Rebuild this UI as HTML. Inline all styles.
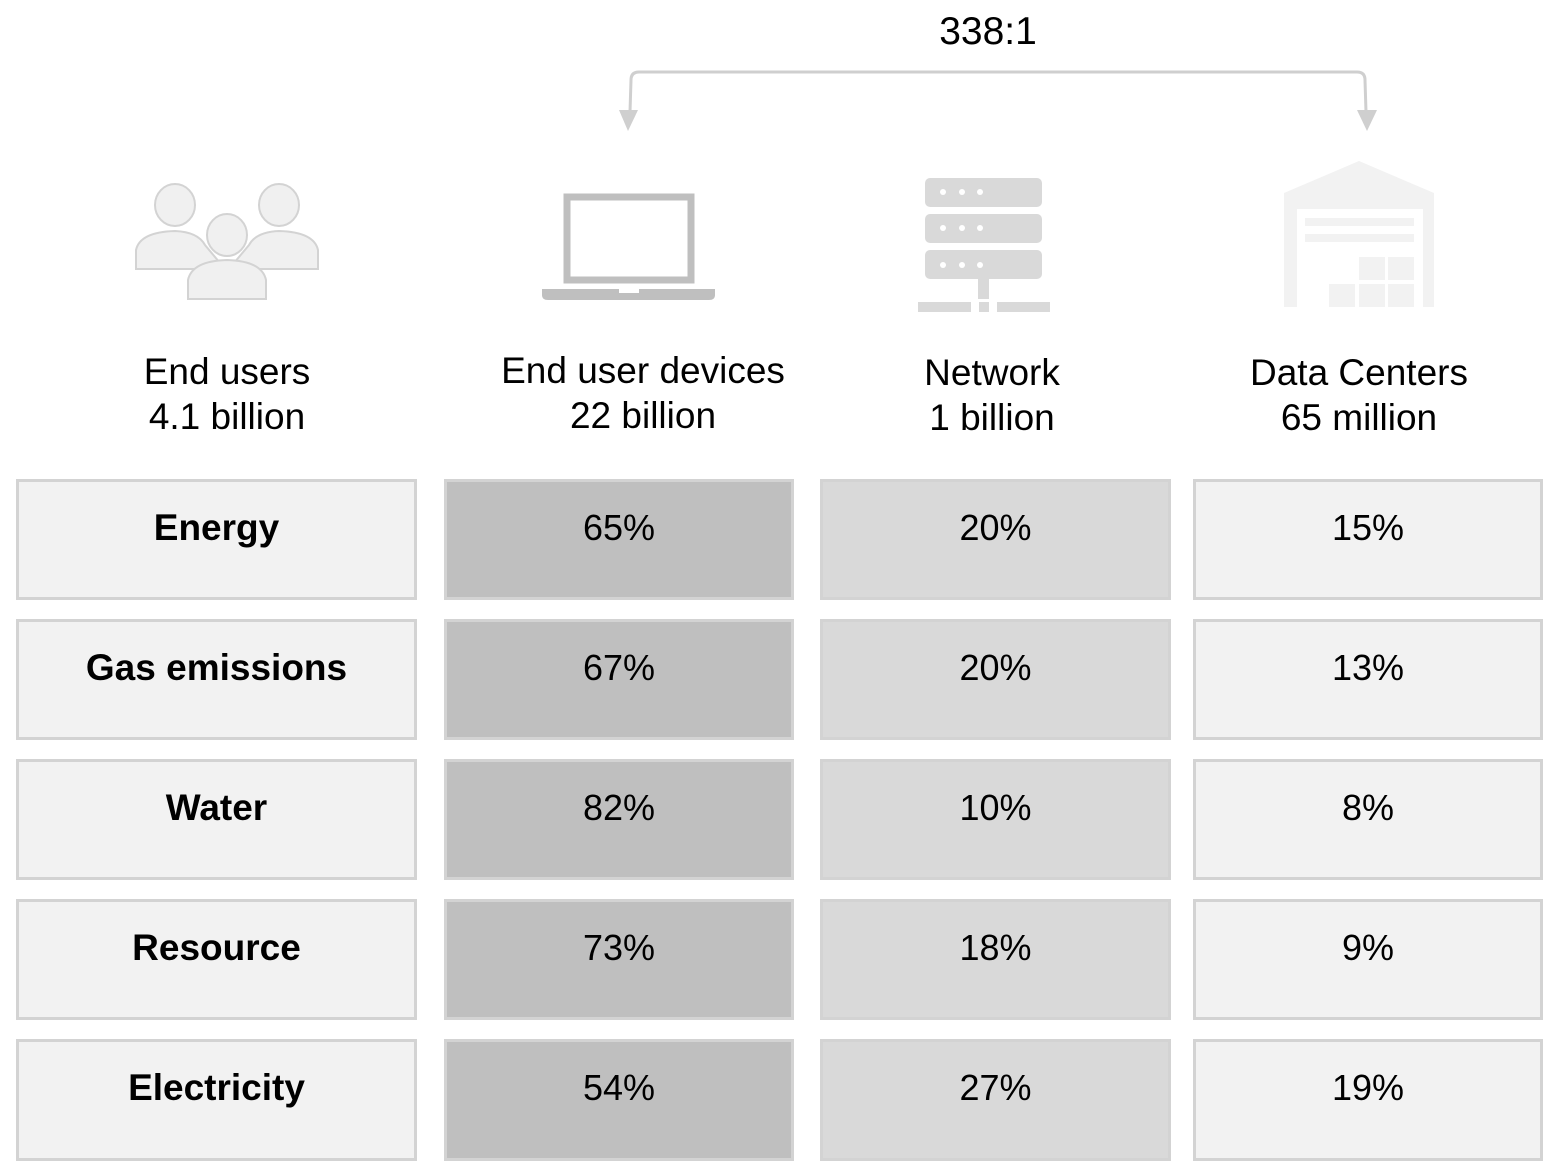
<!DOCTYPE html>
<html><head><meta charset="utf-8"><style>
body{margin:0;width:1563px;height:1174px;background:#fff;position:relative;overflow:hidden;font-family:"Liberation Sans",Arial,sans-serif;}
.t{position:absolute;text-align:center;color:#000;}
.h{font-size:37px;line-height:45px;}
.c{position:absolute;box-sizing:border-box;border:3px solid #d3d3d3;font-size:36px;text-align:center;line-height:92px;padding-bottom:4px;}
.a{background:#f2f2f2;font-weight:bold;font-size:37px;}
.b{background:#bfbfbf;}
.n{background:#d9d9d9;}
.d{background:#f2f2f2;}
</style></head><body>
<div class="t" style="left:888px;top:10px;width:200px;font-size:39px;">338:1</div>
<svg width="1563" height="340" style="position:absolute;left:0;top:0">
<path d="M630 112 L631 80 Q631 72 639 72 L1357 72 Q1365 72 1365 80 L1366 112" fill="none" stroke="#cfcfcf" stroke-width="3"/>
<polygon points="619,110 638,110 628,131" fill="#cfcfcf"/>
<polygon points="1357,110 1377,110 1367,131" fill="#cfcfcf"/>
<g fill="#f0f0f0" stroke="#d3d3d3" stroke-width="2">
<ellipse cx="175" cy="205" rx="20" ry="21"/>
<ellipse cx="279" cy="205" rx="20" ry="21"/>
<path d="M136 269 L136 250 Q140 232 175 231 Q198 232 205 245 L225 269 Z"/>
<path d="M318 269 L318 250 Q314 232 279 231 Q256 232 249 245 L229 269 Z"/>
<ellipse cx="227" cy="235" rx="20" ry="21"/>
<path d="M188 299 L188 280 Q192 261 227 260 Q262 261 266 280 L266 299 Z"/>
</g>
<rect x="567" y="197" width="124" height="83" fill="none" stroke="#bfbfbf" stroke-width="7"/>
<path d="M542 289 L715 289 L715 295 Q715 300 709 300 L548 300 Q542 300 542 295 Z" fill="#bfbfbf"/>
<rect x="619" y="289" width="20" height="4" fill="#fff"/>
<g fill="#d9d9d9">
<rect x="925" y="178" width="117" height="29" rx="5"/>
<rect x="925" y="214" width="117" height="29" rx="5"/>
<rect x="925" y="250" width="117" height="29" rx="5"/>
<rect x="978" y="279" width="11" height="20"/>
<rect x="918" y="302" width="53" height="10"/>
<rect x="979" y="302" width="10" height="10"/>
<rect x="997" y="302" width="53" height="10"/>
</g>
<g fill="#fff"><circle cx="943" cy="192" r="3"/><circle cx="962" cy="192" r="3"/><circle cx="980" cy="192" r="3"/>
<circle cx="943" cy="228" r="3"/><circle cx="962" cy="228" r="3"/><circle cx="980" cy="228" r="3"/>
<circle cx="943" cy="265" r="3"/><circle cx="962" cy="265" r="3"/><circle cx="980" cy="265" r="3"/></g>
<path d="M1284 307 L1284 193 L1359 161 L1434 193 L1434 307 L1423 307 L1423 209 L1297 209 L1297 307 Z" fill="#f2f2f2"/>
<g fill="#f2f2f2">
<rect x="1305" y="218" width="109" height="8"/><rect x="1305" y="234" width="109" height="8"/>
<rect x="1359" y="257" width="26" height="23"/><rect x="1388" y="257" width="26" height="23"/>
<rect x="1329" y="284" width="26" height="23"/><rect x="1359" y="284" width="26" height="23"/><rect x="1388" y="284" width="26" height="23"/>
</g>
</svg>
<div class="t h" style="left:27px;top:349px;width:400px;">End users<br>4.1 billion</div>
<div class="t h" style="left:443px;top:348px;width:400px;">End user devices<br>22 billion</div>
<div class="t h" style="left:792px;top:350px;width:400px;">Network<br>1 billion</div>
<div class="t h" style="left:1159px;top:350px;width:400px;">Data Centers<br>65 million</div>

<div class="c a" style="left:16px;top:479px;width:401px;height:121px;">Energy</div>
<div class="c b" style="left:444px;top:479px;width:350px;height:121px;">65%</div>
<div class="c n" style="left:820px;top:479px;width:351px;height:121px;">20%</div>
<div class="c d" style="left:1193px;top:479px;width:350px;height:121px;">15%</div>

<div class="c a" style="left:16px;top:619px;width:401px;height:121px;">Gas emissions</div>
<div class="c b" style="left:444px;top:619px;width:350px;height:121px;">67%</div>
<div class="c n" style="left:820px;top:619px;width:351px;height:121px;">20%</div>
<div class="c d" style="left:1193px;top:619px;width:350px;height:121px;">13%</div>

<div class="c a" style="left:16px;top:759px;width:401px;height:121px;">Water</div>
<div class="c b" style="left:444px;top:759px;width:350px;height:121px;">82%</div>
<div class="c n" style="left:820px;top:759px;width:351px;height:121px;">10%</div>
<div class="c d" style="left:1193px;top:759px;width:350px;height:121px;">8%</div>

<div class="c a" style="left:16px;top:899px;width:401px;height:121px;">Resource</div>
<div class="c b" style="left:444px;top:899px;width:350px;height:121px;">73%</div>
<div class="c n" style="left:820px;top:899px;width:351px;height:121px;">18%</div>
<div class="c d" style="left:1193px;top:899px;width:350px;height:121px;">9%</div>

<div class="c a" style="left:16px;top:1039px;width:401px;height:122px;">Electricity</div>
<div class="c b" style="left:444px;top:1039px;width:350px;height:122px;">54%</div>
<div class="c n" style="left:820px;top:1039px;width:351px;height:122px;">27%</div>
<div class="c d" style="left:1193px;top:1039px;width:350px;height:122px;">19%</div>
</body></html>
